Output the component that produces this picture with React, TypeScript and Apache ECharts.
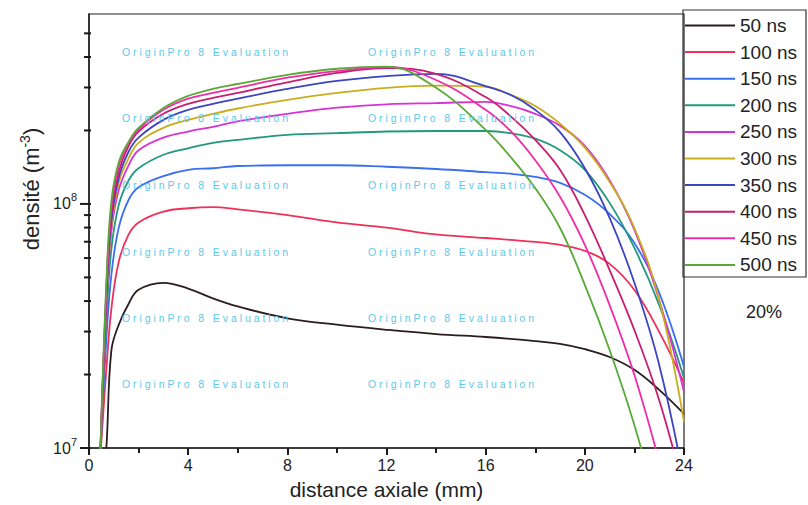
import React, { useEffect, useRef } from "react";
import * as echarts from "echarts";

// axial distance (mm)
const distance = [0.45, 0.7, 0.9, 1.2, 1.6, 2, 3, 4, 5, 6, 8, 10, 12, 14, 16, 17, 18, 19, 20, 21, 22, 23, 24];

// densities (m^-3)
const ns50 = [5e6, 1.0e7, 2.5e7, 3.2e7, 3.9e7, 4.45e7, 4.75e7, 4.5e7, 4.1e7, 3.8e7, 3.4e7, 3.2e7, 3.05e7, 2.93e7, 2.85e7, 2.8e7, 2.74e7, 2.67e7, 2.54e7, 2.36e7, 2.09e7, 1.73e7, 1.38e7];
const ns100 = [9e6, 2.1e7, 3.7e7, 5.8e7, 7.5e7, 8.4e7, 9.3e7, 9.6e7, 9.7e7, 9.5e7, 9.0e7, 8.4e7, 8.0e7, 7.5e7, 7.25e7, 7.12e7, 6.99e7, 6.79e7, 6.42e7, 5.68e7, 4.44e7, 2.99e7, 1.85e7];
const ns150 = [9e6, 2.8e7, 5.1e7, 8.0e7, 1.04e8, 1.17e8, 1.3e8, 1.38e8, 1.4e8, 1.43e8, 1.44e8, 1.44e8, 1.42e8, 1.39e8, 1.35e8, 1.33e8, 1.29e8, 1.22e8, 1.09e8, 9.1e7, 6.92e7, 4.32e7, 2.15e7];
const ns200 = [9e6, 3.35e7, 6.5e7, 9.9e7, 1.25e8, 1.4e8, 1.59e8, 1.69e8, 1.78e8, 1.83e8, 1.92e8, 1.95e8, 1.98e8, 1.99e8, 1.99e8, 1.95e8, 1.85e8, 1.66e8, 1.38e8, 1.01e8, 6.6e7, 3.85e7, 1.94e7];
const ns250 = [9e6, 3.7e7, 7.7e7, 1.14e8, 1.44e8, 1.66e8, 1.87e8, 1.98e8, 2.07e8, 2.18e8, 2.34e8, 2.48e8, 2.56e8, 2.59e8, 2.62e8, 2.52e8, 2.34e8, 2.09e8, 1.73e8, 1.25e8, 7.83e7, 4.04e7, 1.7e7];
const ns300 = [9e6, 3.9e7, 8.0e7, 1.22e8, 1.54e8, 1.78e8, 2.05e8, 2.21e8, 2.34e8, 2.46e8, 2.67e8, 2.85e8, 2.99e8, 3.05e8, 3.02e8, 2.8e8, 2.52e8, 2.13e8, 1.7e8, 1.23e8, 7.97e7, 4.04e7, 1.28e7];
const ns350 = [9e6, 4.0e7, 8.4e7, 1.28e8, 1.64e8, 1.87e8, 2.21e8, 2.43e8, 2.57e8, 2.7e8, 2.96e8, 3.19e8, 3.34e8, 3.41e8, 3.04e8, 2.8e8, 2.43e8, 1.97e8, 1.4e8, 8.76e7, 4.75e7, 2.19e7, 7.4e6];
const ns400 = [9e6, 4.3e7, 9.0e7, 1.35e8, 1.73e8, 1.98e8, 2.34e8, 2.57e8, 2.72e8, 2.85e8, 3.15e8, 3.44e8, 3.6e8, 3.41e8, 2.74e8, 2.29e8, 1.83e8, 1.38e8, 9.0e7, 5.36e7, 3.04e7, 1.57e7, 6.7e6];
const ns450 = [9e6, 4.5e7, 9.6e7, 1.43e8, 1.78e8, 2.02e8, 2.43e8, 2.7e8, 2.85e8, 2.99e8, 3.29e8, 3.5e8, 3.64e8, 3.22e8, 2.43e8, 1.99e8, 1.51e8, 1.07e8, 6.79e7, 3.85e7, 1.99e7, 8.8e6, 3.5e6];
const ns500 = [9e6, 4.8e7, 1.02e8, 1.48e8, 1.8e8, 2.05e8, 2.47e8, 2.77e8, 2.96e8, 3.1e8, 3.38e8, 3.58e8, 3.65e8, 2.99e8, 2.01e8, 1.56e8, 1.16e8, 7.97e7, 4.66e7, 2.52e7, 1.24e7, 5.3e6, 2.2e6];

const seriesNames = ["50 ns", "100 ns", "150 ns", "200 ns", "250 ns", "300 ns", "350 ns", "400 ns", "450 ns", "500 ns"];
const seriesColors = ["#2b1d1d", "#f0305a", "#3a6ff0", "#21997c", "#d633d6", "#c9ad1e", "#3c45c0", "#c81e70", "#f02ca8", "#5aa838"];

const yMajorTicks = [1e7, 1e8];
const yMinorTicks = [2e7, 3e7, 4e7, 5e7, 6e7, 7e7, 8e7, 9e7, 2e8, 3e8, 4e8, 5e8];

const watermarkText = "O r i g i n P r o   8   E v a l u a t i o n";
const watermarkRows = [52, 118, 185, 252, 318, 384];
const watermarkCols = [122, 368];
const noteText = "20%";

const FONT = "Arial, 'Liberation Sans', sans-serif";

export default function App() {
  const ref = useRef<HTMLDivElement>(null);
  useEffect(() => {
    const chart = echarts.init(ref.current as HTMLDivElement, null, { renderer: "svg" });
    const values = [ns50, ns100, ns150, ns200, ns250, ns300, ns350, ns400, ns450, ns500];
    const staticGraphics: any[] = [];
    watermarkRows.forEach((y) =>
      watermarkCols.forEach((x) =>
        staticGraphics.push({
          type: "text",
          x,
          y,
          z: 100,
          silent: true,
          style: {
            text: watermarkText,
            fill: "#5cc8ea",
            fontSize: 10.5,
            fontFamily: FONT,
            verticalAlign: "middle",
          },
        })
      )
    );
    staticGraphics.push(
      {
        type: "rect",
        z: 50,
        shape: { x: 683, y: 10, width: 123, height: 267 },
        style: { fill: "none", stroke: "#333", lineWidth: 1.2 },
      },
      {
        type: "text",
        x: 764,
        y: 312,
        style: {
          text: noteText,
          fontSize: 18,
          fontFamily: FONT,
          fill: "#222",
          align: "center",
          verticalAlign: "middle",
        },
      }
    );
    const option: any = {
      animation: false,
      backgroundColor: "#ffffff",
      grid: {
        left: 89,
        top: 14,
        width: 595,
        height: 434,
        show: true,
        borderColor: "#222",
        borderWidth: 1.2,
        backgroundColor: "transparent",
        outerBoundsMode: "none",
      },
      legend: {
        orient: "vertical",
        left: 685,
        top: 16,
        padding: 0,
        itemWidth: 50,
        itemHeight: 2,
        itemGap: 7.6,
        icon: "rect",
        textStyle: { fontSize: 19, fontFamily: FONT, color: "#222", lineHeight: 18 },
        data: seriesNames,
      },
      xAxis: {
        type: "value",
        min: 0,
        max: 24,
        interval: 4,
        axisLine: { lineStyle: { color: "#222", width: 1.6 } },
        axisTick: { length: 7, lineStyle: { color: "#1a1a1a", width: 2 } },
        minorTick: { show: true, splitNumber: 2, length: 5, lineStyle: { color: "#1a1a1a", width: 2 } },
        axisLabel: { fontSize: 16, color: "#222", fontFamily: FONT, margin: 9 },
        splitLine: { show: false },
        name: "distance axiale (mm)",
        nameLocation: "middle",
        nameGap: 31,
        nameTextStyle: { fontSize: 21, color: "#222", fontFamily: FONT },
      },
      yAxis: {
        type: "log",
        logBase: 10,
        min: 1e7,
        max: 6e8,
        position: "left",
        axisLine: { show: true, lineStyle: { color: "#222", width: 1.6 } },
        axisTick: { show: false },
        axisLabel: {
          customValues: yMajorTicks,
          margin: 12,
          formatter: (v: number) => `{b|10}{s|${Math.round(Math.log10(v))}}`,
          rich: {
            b: { fontSize: 16, color: "#222", fontFamily: FONT, lineHeight: 24 },
            s: { fontSize: 11, color: "#222", fontFamily: FONT, verticalAlign: "top", lineHeight: 11 },
          },
        },
        splitLine: { show: false },
        name: "{n|densité (m}{s|-3}{n|)}",
        nameLocation: "middle",
        nameGap: 44,
        nameTextStyle: {
          padding: [0, 0, 0, 84],
          rich: {
            n: { fontSize: 22, color: "#222", fontFamily: FONT, lineHeight: 26 },
            s: { fontSize: 14, color: "#222", fontFamily: FONT, verticalAlign: "top", lineHeight: 14 },
          },
        },
      },
      series: values.map((v, i) => ({
        type: "line",
        name: seriesNames[i],
        data: distance.map((x, j) => [x, v[j]]),
        showSymbol: false,
        symbol: "none",
        smooth: 0.4,
        clip: true,
        lineStyle: { width: 1.8, color: seriesColors[i] },
        itemStyle: { color: seriesColors[i] },
      })),
      graphic: staticGraphics,
    };
    chart.setOption(option);

    // y-axis ticks (decades and 2..9 subdivisions) placed through the chart's own log scale
    const tickLines: any[] = [];
    const x0 = chart.convertToPixel({ xAxisIndex: 0 }, 0) as unknown as number;
    const addTicks = (ticks: number[], len: number) => {
      ticks.forEach((v) => {
        const y = chart.convertToPixel({ yAxisIndex: 0 }, v) as unknown as number;
        if (typeof y === "number" && isFinite(y) && typeof x0 === "number" && isFinite(x0)) {
          tickLines.push({
            type: "line",
            z: 60,
            silent: true,
            shape: { x1: x0 - len, y1: y, x2: x0 + 2, y2: y },
            style: { stroke: "#1a1a1a", lineWidth: 2 },
          });
        }
      });
    };
    addTicks(yMajorTicks, 9);
    addTicks(yMinorTicks, 5);
    if (tickLines.length) {
      chart.setOption({ graphic: [...staticGraphics, ...tickLines] });
    }
    return () => chart.dispose();
  }, []);
  return (
    <div
      ref={ref}
      style={{ position: "fixed", left: 0, top: 0, width: 808, height: 505, background: "#fff" }}
    />
  );
}
